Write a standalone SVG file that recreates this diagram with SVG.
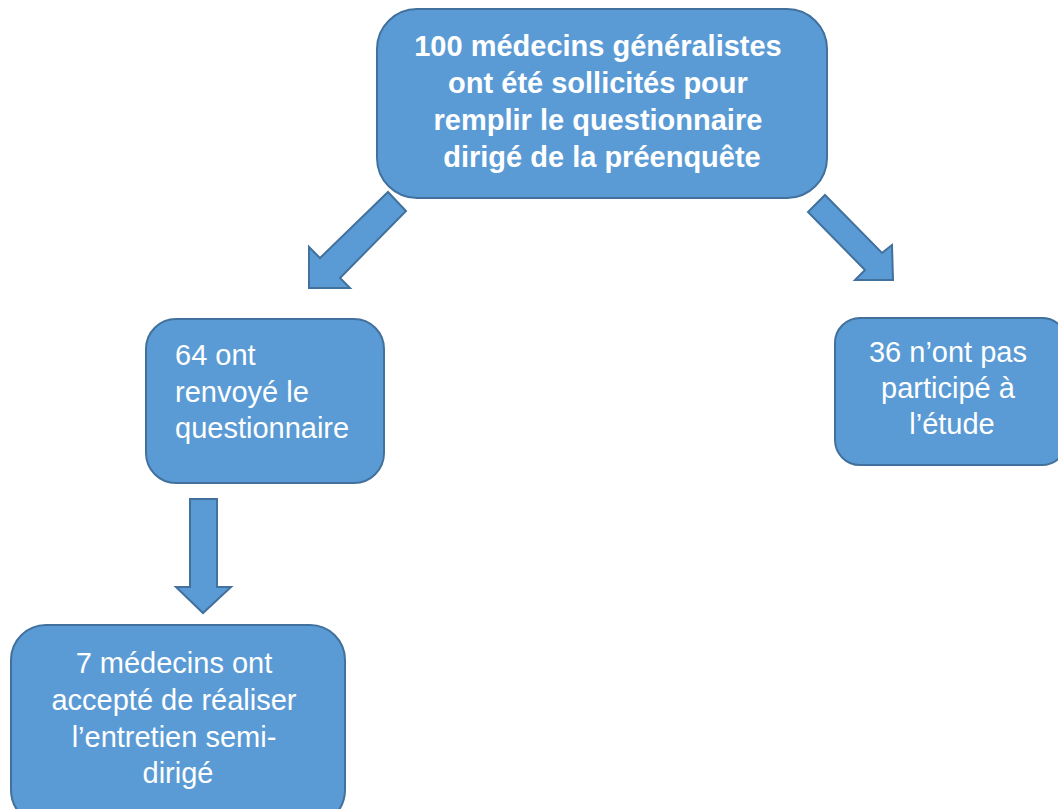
<svg xmlns="http://www.w3.org/2000/svg" width="1058" height="809" viewBox="0 0 1058 809">
<style>
.box{fill:#5B9BD5;stroke:#41719C;stroke-width:2}
.arr{fill:#5B9BD5;stroke:#41719C;stroke-width:2;stroke-linejoin:miter}
.t{font-family:"Liberation Sans",Arial,sans-serif;font-size:29px;fill:#FFFFFF}
.b{font-weight:bold}
</style>
<rect width="1058" height="809" fill="#FFFFFF"/>
<g id="connectors">
<polygon class="arr" points="388,192 406,211 340,278 350,288 309,288 309,247 320,258"/>
<polygon class="arr" points="825,195 882,253 892,245 893,280 855,280 865,270 808,212"/>
<polygon class="arr" points="190,499 217,499 217,587 231,587 203,613 176,587 190,587"/>
</g>
<g id="node-top">
<rect class="box" x="377" y="9" width="450" height="189" rx="40" ry="40"/>
<text class="t b" text-anchor="middle">
<tspan x="602" y="56">100 médecins généralistes</tspan>
<tspan x="602" y="93">ont été sollicités pour</tspan>
<tspan x="602" y="130">remplir le questionnaire</tspan>
<tspan x="602" y="167">dirigé de la préenquête</tspan>
</text>
</g>
<g id="node-64">
<rect class="box" x="146" y="319" width="238" height="164" rx="30" ry="30"/>
<text class="t">
<tspan x="175" y="365">64 ont</tspan>
<tspan x="175" y="402">renvoyé le</tspan>
<tspan x="175" y="438">questionnaire</tspan>
</text>
</g>
<g id="node-36">
<rect class="box" x="835" y="318" width="232" height="147" rx="25" ry="25"/>
<text class="t" text-anchor="middle">
<tspan x="952" y="362">36 n’ont pas</tspan>
<tspan x="952" y="398">participé à</tspan>
<tspan x="952" y="434">l’étude</tspan>
</text>
</g>
<g id="node-7">
<rect class="box" x="11" y="625" width="334" height="200" rx="35" ry="35"/>
<text class="t" text-anchor="middle">
<tspan x="178" y="673">7 médecins ont</tspan>
<tspan x="178" y="710">accepté de réaliser</tspan>
<tspan x="178" y="747">l’entretien semi-</tspan>
<tspan x="178" y="783">dirigé</tspan>
</text>
</g>
</svg>
